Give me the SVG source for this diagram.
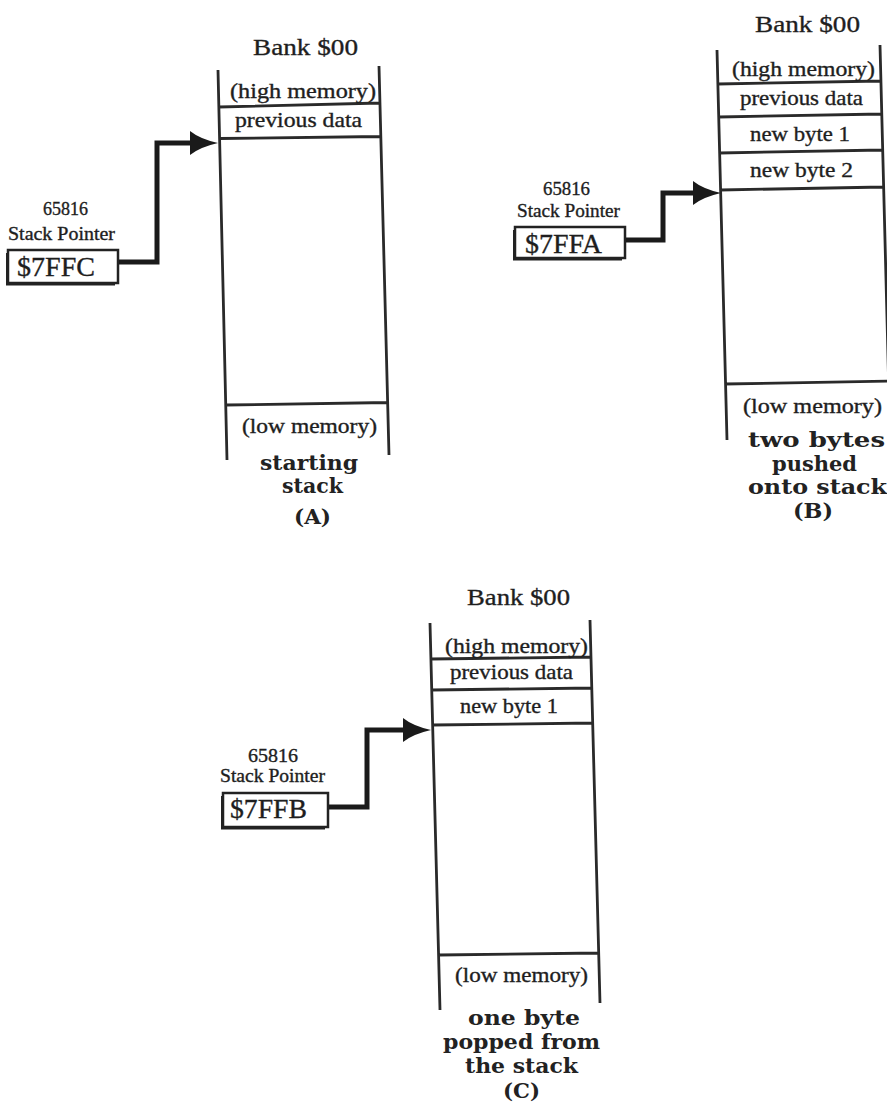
<svg xmlns="http://www.w3.org/2000/svg" width="887" height="1104" viewBox="0 0 887 1104">
<defs>
<style>
.t{font-family:"Liberation Serif","Times New Roman",serif;fill:#1e1e1e;stroke:#1e1e1e;stroke-width:0.35}
.c{font-size:21px}
.bk{font-size:24px}
.sp{font-size:18px}
.val{font-size:28px}
.cap{font-family:"DejaVu Serif","Liberation Serif",serif;font-weight:bold;font-size:20px;fill:#222}
.ln{stroke:#2a2a2a;stroke-width:2.8;fill:none}
.box{fill:#fff;stroke:#222;stroke-width:2.5}
.shd{fill:none;stroke:#222;stroke-width:2}
.conn{fill:none;stroke:#1a1a1a;stroke-width:5;stroke-linejoin:miter}
</style>
<marker id="ah" markerUnits="userSpaceOnUse" markerWidth="28" markerHeight="24" viewBox="0 0 28 24" refX="1" refY="12" orient="auto"><path d="M0,0 Q10,8 28,12 Q10,16 0,24 Z" fill="#1a1a1a"/></marker>
</defs>
<rect width="887" height="1104" fill="#fff"/>

<g id="stackA">
<text class="t bk" x="253" y="55" textLength="105" lengthAdjust="spacingAndGlyphs">Bank $00</text>
<path class="ln" d="M218,70 L227,460 M379,66 L389,455 M219,107 L380,103 M219.5,138.5 L380,136.5 M226,405 L388.5,402.5"/>
<text class="t c" x="230" y="98" textLength="146" lengthAdjust="spacingAndGlyphs">(high memory)</text>
<text class="t c" x="235" y="127" textLength="127" lengthAdjust="spacingAndGlyphs">previous data</text>
<text class="t c" x="242" y="433" textLength="135" lengthAdjust="spacingAndGlyphs">(low memory)</text>
</g>
<g id="captionA">
<text class="cap" x="260" y="470" textLength="98" lengthAdjust="spacingAndGlyphs">starting</text>
<text class="cap" x="282" y="493" textLength="61" lengthAdjust="spacingAndGlyphs">stack</text>
<text class="cap" x="294" y="524" textLength="37" lengthAdjust="spacingAndGlyphs">(A)</text>
</g>
<g id="pointerA">
<text class="t sp" x="43" y="215" textLength="45" lengthAdjust="spacingAndGlyphs">65816</text>
<text class="t sp" x="8" y="240" textLength="107" lengthAdjust="spacingAndGlyphs">Stack Pointer</text>
<rect class="box" x="8" y="250" width="110" height="33"/>
<path class="shd" d="M7,253 V284.5 H115"/>
<text class="t val" x="17" y="276" textLength="78" lengthAdjust="spacingAndGlyphs">$7FFC</text>
</g>

<g id="stackB">
<text class="t bk" x="755" y="32" textLength="105" lengthAdjust="spacingAndGlyphs">Bank $00</text>
<path class="ln" d="M717,50 L727,440 M880,45 L890,435 M717.8,84 L881,81 M718.7,117 L882,114 M719.6,153 L883,150 M720.5,190 L884,187 M725,384 L889,381"/>
<text class="t c" x="732" y="76" textLength="143" lengthAdjust="spacingAndGlyphs">(high memory)</text>
<text class="t c" x="740" y="105" textLength="123" lengthAdjust="spacingAndGlyphs">previous data</text>
<text class="t c" x="750" y="141" textLength="100" lengthAdjust="spacingAndGlyphs">new byte 1</text>
<text class="t c" x="750" y="177" textLength="103" lengthAdjust="spacingAndGlyphs">new byte 2</text>
<text class="t c" x="743" y="413" textLength="139" lengthAdjust="spacingAndGlyphs">(low memory)</text>
</g>
<g id="captionB">
<text class="cap" x="748" y="447" textLength="137" lengthAdjust="spacingAndGlyphs">two  bytes</text>
<text class="cap" x="772" y="471" textLength="85" lengthAdjust="spacingAndGlyphs">pushed</text>
<text class="cap" x="748" y="494" textLength="139" lengthAdjust="spacingAndGlyphs">onto  stack</text>
<text class="cap" x="793" y="518" textLength="40" lengthAdjust="spacingAndGlyphs">(B)</text>
</g>
<g id="pointerB">
<text class="t sp" x="543" y="195" textLength="47" lengthAdjust="spacingAndGlyphs">65816</text>
<text class="t sp" x="517" y="217" textLength="103" lengthAdjust="spacingAndGlyphs">Stack Pointer</text>
<rect class="box" x="515" y="227" width="110" height="31"/>
<path class="shd" d="M514,230 V259.5 H622"/>
<text class="t val" x="525" y="253" textLength="77" lengthAdjust="spacingAndGlyphs">$7FFA</text>
</g>

<g id="stackC">
<text class="t bk" x="467" y="605" textLength="103" lengthAdjust="spacingAndGlyphs">Bank $00</text>
<path class="ln" d="M430,623 L440,1010 M590,620 L600,1003 M431,659 L591,657 M431.7,690 L592,688 M432.6,725 L593,723 M439,955 L599,953"/>
<text class="t c" x="445" y="653" textLength="143" lengthAdjust="spacingAndGlyphs">(high memory)</text>
<text class="t c" x="450" y="679" textLength="123" lengthAdjust="spacingAndGlyphs">previous data</text>
<text class="t c" x="460" y="713" textLength="98" lengthAdjust="spacingAndGlyphs">new byte 1</text>
<text class="t c" x="455" y="982" textLength="133" lengthAdjust="spacingAndGlyphs">(low memory)</text>
</g>
<g id="captionC">
<text class="cap" x="468" y="1025" textLength="112" lengthAdjust="spacingAndGlyphs">one  byte</text>
<text class="cap" x="443" y="1049" textLength="157" lengthAdjust="spacingAndGlyphs">popped from</text>
<text class="cap" x="465" y="1073" textLength="113" lengthAdjust="spacingAndGlyphs">the stack</text>
<text class="cap" x="503" y="1098" textLength="37" lengthAdjust="spacingAndGlyphs">(C)</text>
</g>
<g id="pointerC">
<text class="t sp" x="248" y="762" textLength="50" lengthAdjust="spacingAndGlyphs">65816</text>
<text class="t sp" x="220" y="782" textLength="105" lengthAdjust="spacingAndGlyphs">Stack Pointer</text>
<rect class="box" x="223" y="793" width="105" height="34"/>
<path class="shd" d="M222,796 V828.5 H325"/>
<text class="t val" x="230" y="818" textLength="77" lengthAdjust="spacingAndGlyphs">$7FFB</text>
</g>

<g id="connectors">
<path class="conn" d="M119,262 H157 V143 H191" marker-end="url(#ah)"/>
<path class="conn" d="M626,240 H663 V193 H694" marker-end="url(#ah)"/>
<path class="conn" d="M329,807 H367 V730 H404" marker-end="url(#ah)"/>
</g>
</svg>
